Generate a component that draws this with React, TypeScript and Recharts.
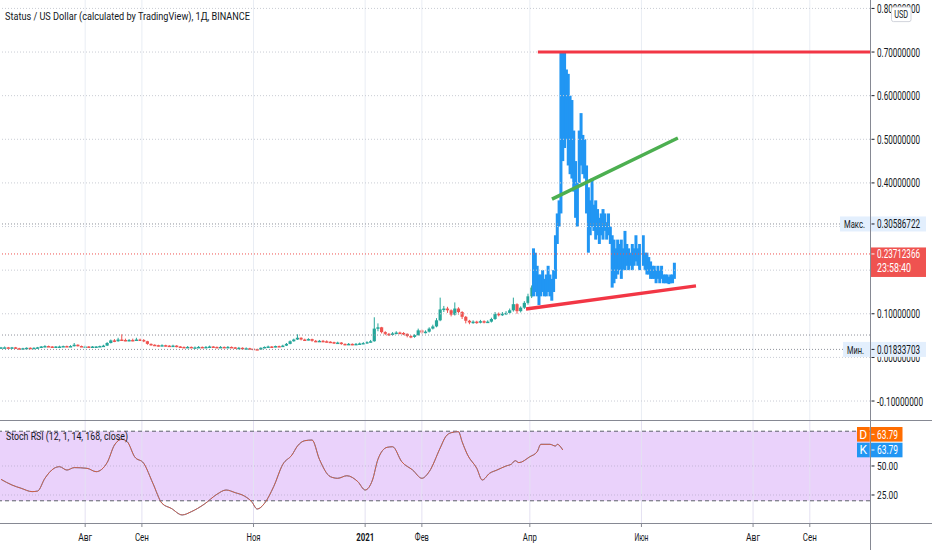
import React from 'react';
import { ComposedChart, Bar, Line, XAxis, YAxis, ReferenceLine, ReferenceArea } from 'recharts';

// day index 0 = 2020-06-16
const candleStep = 2;
const firstOpen = 0.023;
const candleClose = [
  0.023, 0.023, 0.022, 0.023, 0.021, 0.020, 0.021, 0.022, 0.021, 0.022,
  0.023, 0.025, 0.026, 0.025, 0.024, 0.025, 0.025, 0.026, 0.025, 0.026,
  0.029, 0.026, 0.025, 0.025, 0.024, 0.025, 0.025, 0.026, 0.027, 0.033,
  0.039, 0.037, 0.041, 0.040, 0.039, 0.040, 0.039, 0.041, 0.040, 0.037,
  0.031, 0.029, 0.028, 0.027, 0.028, 0.027, 0.026, 0.027, 0.025, 0.024,
  0.023, 0.024, 0.023, 0.023, 0.024, 0.023, 0.024, 0.025, 0.024, 0.023,
  0.024, 0.023, 0.024, 0.023, 0.022, 0.022, 0.021, 0.021, 0.020, 0.019,
  0.018, 0.022, 0.024, 0.025, 0.024, 0.026, 0.025, 0.027, 0.031, 0.037,
  0.041, 0.045, 0.041, 0.040, 0.042, 0.038, 0.037, 0.038, 0.037, 0.036,
  0.035, 0.033, 0.034, 0.031, 0.030, 0.031, 0.030, 0.031, 0.032, 0.033,
  0.035, 0.037, 0.066, 0.069, 0.058, 0.054, 0.052, 0.055, 0.057, 0.056,
  0.054, 0.049, 0.047, 0.051, 0.062, 0.057, 0.059, 0.066, 0.071, 0.085,
  0.110, 0.112, 0.108, 0.098, 0.112, 0.104, 0.093, 0.084, 0.080, 0.082,
  0.080, 0.083, 0.081, 0.082, 0.088, 0.100, 0.098, 0.100, 0.102, 0.108,
  0.122, 0.106, 0.114, 0.125, 0.140, 0.160,
];
const candleHigh = [
  0.024, 0.025, 0.024, 0.024, 0.024, 0.022, 0.022, 0.023, 0.023, 0.023,
  0.024, 0.026, 0.028, 0.027, 0.026, 0.026, 0.027, 0.027, 0.027, 0.028,
  0.033, 0.030, 0.027, 0.027, 0.026, 0.026, 0.026, 0.027, 0.029, 0.035,
  0.041, 0.042, 0.045, 0.053, 0.043, 0.042, 0.043, 0.045, 0.043, 0.042,
  0.038, 0.032, 0.030, 0.029, 0.030, 0.029, 0.028, 0.029, 0.028, 0.026,
  0.025, 0.026, 0.025, 0.025, 0.026, 0.025, 0.026, 0.027, 0.026, 0.025,
  0.026, 0.025, 0.026, 0.025, 0.024, 0.024, 0.023, 0.023, 0.022, 0.021,
  0.020, 0.023, 0.025, 0.027, 0.026, 0.027, 0.027, 0.029, 0.033, 0.039,
  0.043, 0.053, 0.046, 0.043, 0.044, 0.043, 0.040, 0.040, 0.040, 0.039,
  0.037, 0.036, 0.036, 0.035, 0.032, 0.033, 0.032, 0.033, 0.034, 0.035,
  0.037, 0.040, 0.092, 0.078, 0.070, 0.060, 0.056, 0.058, 0.060, 0.059,
  0.058, 0.055, 0.051, 0.053, 0.066, 0.064, 0.062, 0.069, 0.075, 0.090,
  0.137, 0.118, 0.116, 0.110, 0.126, 0.115, 0.106, 0.095, 0.086, 0.085,
  0.084, 0.086, 0.085, 0.085, 0.091, 0.104, 0.103, 0.104, 0.106, 0.112,
  0.137, 0.124, 0.117, 0.129, 0.146, 0.165,
];
const candleLow = [
  0.022, 0.022, 0.021, 0.021, 0.020, 0.019, 0.019, 0.020, 0.020, 0.020,
  0.021, 0.022, 0.024, 0.024, 0.023, 0.023, 0.024, 0.024, 0.024, 0.024,
  0.025, 0.025, 0.024, 0.024, 0.023, 0.023, 0.024, 0.024, 0.025, 0.026,
  0.032, 0.035, 0.036, 0.038, 0.037, 0.037, 0.037, 0.038, 0.038, 0.035,
  0.029, 0.027, 0.026, 0.025, 0.026, 0.025, 0.024, 0.025, 0.023, 0.022,
  0.022, 0.022, 0.022, 0.022, 0.022, 0.022, 0.022, 0.023, 0.023, 0.022,
  0.022, 0.022, 0.022, 0.022, 0.021, 0.021, 0.020, 0.020, 0.019, 0.018,
  0.017, 0.017, 0.021, 0.023, 0.023, 0.023, 0.024, 0.024, 0.026, 0.030,
  0.036, 0.040, 0.039, 0.038, 0.039, 0.036, 0.035, 0.036, 0.035, 0.034,
  0.033, 0.031, 0.032, 0.029, 0.028, 0.029, 0.028, 0.029, 0.030, 0.031,
  0.032, 0.034, 0.036, 0.060, 0.055, 0.051, 0.049, 0.050, 0.053, 0.053,
  0.051, 0.046, 0.044, 0.045, 0.050, 0.054, 0.055, 0.057, 0.064, 0.069,
  0.083, 0.104, 0.102, 0.094, 0.096, 0.098, 0.088, 0.078, 0.076, 0.077,
  0.077, 0.078, 0.078, 0.079, 0.080, 0.086, 0.094, 0.095, 0.097, 0.099,
  0.105, 0.100, 0.103, 0.111, 0.121, 0.136,
];

const blueStartDay = 291;
const blueHigh = [
  0.25, 0.24, 0.21, 0.19, 0.19, 0.20, 0.18, 0.19, 0.21, 0.19,
  0.18, 0.20, 0.28, 0.33, 0.36, 0.70, 0.70, 0.70, 0.66, 0.65,
  0.60, 0.59, 0.52, 0.45, 0.40, 0.52, 0.56, 0.51, 0.50, 0.44,
  0.39, 0.36, 0.41, 0.35, 0.36, 0.34, 0.32, 0.33, 0.34, 0.33,
  0.31, 0.33, 0.30, 0.28, 0.27, 0.25, 0.27, 0.26, 0.27, 0.25,
  0.29, 0.26, 0.25, 0.24, 0.26, 0.25, 0.28, 0.25, 0.26, 0.25,
  0.28, 0.24, 0.24, 0.23, 0.22, 0.21, 0.21, 0.20, 0.21, 0.20,
  0.21, 0.19, 0.19, 0.19, 0.185, 0.19, 0.19, 0.217,
];
const blueLow = [
  0.14, 0.15, 0.14, 0.12, 0.14, 0.15, 0.14, 0.14, 0.15, 0.14,
  0.13, 0.15, 0.18, 0.26, 0.30, 0.33, 0.45, 0.48, 0.50, 0.44,
  0.42, 0.41, 0.38, 0.32, 0.30, 0.40, 0.44, 0.42, 0.41, 0.33,
  0.24, 0.28, 0.30, 0.29, 0.27, 0.28, 0.26, 0.28, 0.27, 0.29,
  0.27, 0.28, 0.26, 0.16, 0.17, 0.18, 0.19, 0.20, 0.18, 0.20,
  0.20, 0.21, 0.20, 0.21, 0.20, 0.21, 0.22, 0.21, 0.20, 0.22,
  0.21, 0.20, 0.19, 0.19, 0.18, 0.18, 0.18, 0.17, 0.18, 0.17,
  0.18, 0.17, 0.17, 0.17, 0.168, 0.17, 0.17, 0.18,
];

const stochDays = [
  0, 6, 11, 17, 20, 24, 29, 32, 36, 40, 47, 52, 58, 62, 66, 69, 73, 78, 83, 88,
  93, 99, 104, 111, 118, 123, 128, 133, 137, 140, 144, 149, 154, 159, 162, 166, 170, 174, 180, 184,
  189, 195, 199, 203, 206, 211, 214, 219, 225, 230, 234, 240, 243, 246, 250, 252, 255, 260, 263, 267,
  271, 276, 279, 281, 283, 289, 293, 295, 300, 303, 304, 307,
];
const stochValues = [
  38.5, 33.6, 30.8, 27.9, 28.4, 39.4, 48.0, 49.4, 46.5, 48.6, 48.0, 45.1, 52.9, 68.1, 73.0, 70.9, 58.0, 52.3, 35.1, 17.8,
  13.5, 7.8, 10.6, 17.0, 25.6, 29.3, 27.0, 24.1, 19.2, 12.9, 17.8, 32.2, 51.4, 59.5, 67.2, 71.8, 72.4, 55.8, 40.8, 39.4,
  41.6, 36.5, 29.3, 37.9, 55.8, 66.1, 66.6, 53.7, 46.5, 39.4, 45.1, 65.5, 75.3, 78.7, 79.6, 70.9, 59.5, 48.0, 37.9, 43.7,
  46.5, 50.0, 51.7, 54.6, 52.9, 58.0, 62.3, 68.7, 68.7, 67.2, 68.7, 63.8,
];

const tickDays = [46, 77, 138, 199, 230, 289, 350, 411, 442];
const tickLabels = ['Авг', 'Сен', 'Ноя', '2021', 'Фев', 'Апр', 'Июн', 'Авг', 'Сен'];

const priceGrid = [0.8, 0.7, 0.6, 0.5, 0.4, 0.3, 0.2, 0.1, 0, -0.1];
const hiddenPriceLabels = [0.3, 0.2];
const maxPrice = 0.30586722;
const minPrice = 0.01833703;
const lastPrice = 0.23712366;
const lastTimer = '23:58:40';
const extraLevel = 0.0513;
const stochLast = 63.79;

const topLineDays = [293.4, 474.9];
const topLineValues = [0.7, 0.7];
const greenLineDays = [301.1, 369.9];
const greenLineValues = [0.363, 0.503];
const lowLineDays = [286.9, 379.8];
const lowLineValues = [0.111, 0.164];

const X_DOMAIN: [number, number] = [-0.55, 474.9];
const AX = 870;
const FONT = "Roboto, 'Noto Sans', sans-serif";

const candleRows = candleClose.map((c, i) => ({
  day: i * candleStep,
  open: i === 0 ? firstOpen : candleClose[i - 1],
  close: c,
  high: candleHigh[i],
  low: candleLow[i],
  kind: 'candle',
}));
const blueRows = blueHigh.map((h, i) => ({
  day: blueStartDay + i,
  open: h,
  close: blueLow[i],
  high: h,
  low: blueLow[i],
  kind: 'blue',
}));
const mainData = [...candleRows, ...blueRows].map((r) => ({ ...r, range: [r.low, r.high] }));

const stochData = stochDays.map((d, i) => ({ day: d, kVal: stochValues[i], dVal: stochValues[i] }));
const toLine = (days: number[], vals: number[]) => days.map((d, i) => ({ day: d, v: vals[i] }));
const topLine = toLine(topLineDays, topLineValues);
const greenLine = toLine(greenLineDays, greenLineValues);
const lowLine = toLine(lowLineDays, lowLineValues);

const CandleShape = (props: any) => {
  const { x, y, width, height, payload } = props;
  if (!payload || height == null || isNaN(y)) return null;
  const cx = x + width / 2;
  const { high, low, open, close, kind } = payload;
  if (kind === 'blue') {
    return <rect x={cx - 1.5} y={y} width={3} height={Math.max(height, 1)} fill="#2196f3" />;
  }
  const ppu = height / (high - low);
  const up = close >= open;
  const color = up ? '#26a69a' : '#ef5350';
  const yo = y + (high - open) * ppu;
  const yc = y + (high - close) * ppu;
  const top = Math.min(yo, yc);
  const h = Math.max(Math.abs(yo - yc), 1.5);
  return (
    <g>
      <line x1={cx} x2={cx} y1={y} y2={y + height} stroke={color} strokeWidth={1} />
      <rect x={cx - 1.6} y={top} width={3.2} height={h} fill={color} />
    </g>
  );
};

const PriceTick = (props: any) => {
  const { y, payload } = props;
  const v = payload.value;
  const txt = (s: string, fill = '#131722', len = 43) => (
    <text x={AX + 7} y={y + 4.5} fill={fill} fontSize={12.5} fontFamily={FONT} textLength={len} lengthAdjust="spacingAndGlyphs">
      {s}
    </text>
  );
  if (v === maxPrice || v === minPrice) {
    const isMax = v === maxPrice;
    const label = isMax ? 'Макс.' : 'Мин.';
    const lw = isMax ? 30 : 27;
    return (
      <g>
        <rect x={AX - lw} y={y - 7.5} width={lw} height={15} fill="#e3effd" />
        <rect x={AX + 1} y={y - 7.5} width={55} height={15} fill="#e3effd" />
        <text x={AX - lw + 4} y={y + 4.2} fill="#131722" fontSize={11.5} fontFamily={FONT} textLength={isMax ? 21 : 17} lengthAdjust="spacingAndGlyphs">
          {label}
        </text>
        <line x1={AX + 1.5} x2={AX + 4.5} y1={y} y2={y} stroke="#131722" />
        {txt(v.toFixed(8))}
      </g>
    );
  }
  if (v === lastPrice) {
    return (
      <g>
        <rect x={AX + 1} y={y - 6.5} width={55} height={29.5} fill="#ef5350" />
        <line x1={AX + 1.5} x2={AX + 4.5} y1={y} y2={y} stroke="#ffffff" />
        {txt(v.toFixed(8), '#ffffff')}
        <text x={AX + 7} y={y + 18.5} fill="#ffffff" fontSize={12.5} fontFamily={FONT} textLength={34} lengthAdjust="spacingAndGlyphs">
          {lastTimer}
        </text>
      </g>
    );
  }
  if (hiddenPriceLabels.includes(v)) return <g />;
  const s = v.toFixed(8);
  return (
    <g>
      <line x1={AX + 1.5} x2={AX + 4.5} y1={y} y2={y} stroke="#131722" />
      {txt(s, '#131722', s.startsWith('-') ? 46 : 43)}
      {v === 0.8 ? (
        <g>
          <rect x={891.5} y={y - 1.3} width={19.5} height={14.5} rx={2} fill="#ffffff" stroke="#d1d4dc" />
          <text x={901.2} y={y + 10} textAnchor="middle" fill="#131722" fontSize={10} fontFamily={FONT} textLength={14} lengthAdjust="spacingAndGlyphs">
            USD
          </text>
        </g>
      ) : null}
    </g>
  );
};

const StochTick = (props: any) => {
  const { y, payload } = props;
  const v = payload.value;
  if (v === stochLast) {
    const box = (yy: number, letter: string, color: string) => (
      <g>
        <rect x={857} y={yy - 7.3} width={12.5} height={14.6} fill={color} />
        <rect x={AX - 0.5} y={yy - 7.3} width={33} height={14.6} fill={color} />
        <text x={863.2} y={yy + 4.3} textAnchor="middle" fill="#ffffff" fontSize={12} fontFamily={FONT}>
          {letter}
        </text>
        <line x1={AX + 1.5} x2={AX + 4.5} y1={yy} y2={yy} stroke="#ffffff" />
        <text x={AX + 7} y={yy + 4.3} fill="#ffffff" fontSize={12} fontFamily={FONT} textLength={21} lengthAdjust="spacingAndGlyphs">
          {v.toFixed(2)}
        </text>
      </g>
    );
    return (
      <g>
        {box(y, 'K', '#2196f3')}
        {box(y - 15.7, 'D', '#ff6d00')}
      </g>
    );
  }
  return (
    <g>
      <line x1={AX + 1.5} x2={AX + 4.5} y1={y} y2={y} stroke="#131722" />
      <text x={AX + 7} y={y + 4.2} fill="#131722" fontSize={11.5} fontFamily={FONT} textLength={21} lengthAdjust="spacingAndGlyphs">
        {v.toFixed(2)}
      </text>
    </g>
  );
};

const TimeTick = (props: any) => {
  const { x, y, payload } = props;
  const i = tickDays.indexOf(payload.value);
  const label = tickLabels[i];
  const bold = label === '2021';
  return (
    <text x={x} y={y + 11.7} textAnchor="middle" fill="#131722" fontSize={11.5} fontWeight={bold ? 700 : 400} fontFamily={FONT} textLength={bold ? 18 : 14} lengthAdjust="spacingAndGlyphs">
      {label}
    </text>
  );
};

export default function App() {
  return (
    <div style={{ position: 'relative', width: 932, height: 550, background: '#ffffff', overflow: 'hidden' }}>
      <style>{'body{margin:0;}'}</style>
      <div style={{ position: 'absolute', left: 0, top: 0 }}>
        <ComposedChart width={932} height={420} data={mainData} margin={{ top: 0, right: 0, bottom: 0, left: 0 }}>
          <XAxis type="number" dataKey="day" domain={X_DOMAIN} allowDataOverflow hide />
          <YAxis
            orientation="right"
            width={62}
            type="number"
            domain={[-0.1435, 0.8193]}
            allowDataOverflow
            ticks={[...priceGrid, maxPrice, minPrice, lastPrice]}
            interval={0}
            tick={PriceTick}
            axisLine={false}
            tickLine={false}
            tickSize={4}
            tickMargin={3}
          />
          {tickDays.map((d) => (
            <ReferenceLine key={'vx' + d} x={d} stroke="#e9edf4" strokeWidth={1} />
          ))}
          {priceGrid.map((v) => (
            <ReferenceLine key={'gy' + v} y={v} stroke="#c9ccd4" strokeDasharray="1 2" />
          ))}
          <ReferenceLine y={maxPrice} stroke="#8f929b" strokeDasharray="1 2" />
          <ReferenceLine y={minPrice} stroke="#8f929b" strokeDasharray="1 2" />
          <ReferenceLine y={extraLevel} stroke="#8f929b" strokeDasharray="1 2" />
          <ReferenceLine y={lastPrice} stroke="#ef5350" strokeDasharray="1 2" />
          <Bar dataKey="range" barSize={2} shape={CandleShape} isAnimationActive={false} />
          <Line data={lowLine} dataKey="v" stroke="#f23645" strokeWidth={3.5} dot={false} activeDot={false} isAnimationActive={false} />
          <Line data={greenLine} dataKey="v" stroke="#4caf50" strokeWidth={3.5} dot={false} activeDot={false} isAnimationActive={false} />
          <Line data={topLine} dataKey="v" stroke="#f23645" strokeWidth={3} dot={false} activeDot={false} isAnimationActive={false} />
        </ComposedChart>
      </div>
      <div style={{ position: 'absolute', left: 0, top: 421 }}>
        <ComposedChart width={932} height={129} data={stochData} margin={{ top: 0, right: 0, bottom: 0, left: 0 }}>
          <XAxis
            type="number"
            dataKey="day"
            domain={X_DOMAIN}
            allowDataOverflow
            ticks={tickDays}
            interval={0}
            height={27}
            tick={TimeTick}
            axisLine={false}
            tickLine={{ stroke: '#868993' }}
            tickSize={4}
            tickMargin={2}
          />
          <YAxis
            orientation="right"
            width={62}
            type="number"
            domain={[0.85, 88.8]}
            allowDataOverflow
            ticks={[50, 25, stochLast]}
            interval={0}
            tick={StochTick}
            axisLine={false}
            tickLine={false}
            tickSize={4}
            tickMargin={3}
          />
          <ReferenceArea y1={20} y2={80} fill="#ead2fb" fillOpacity={1} stroke="none" />
          {tickDays.map((d) => (
            <ReferenceLine key={'svx' + d} x={d} stroke="#e4e1f2" strokeWidth={1} />
          ))}
          <ReferenceLine y={50} stroke="#c4b5d8" strokeDasharray="1 2" />
          <ReferenceLine y={25} stroke="#c4b5d8" strokeDasharray="1 2" />
          <ReferenceLine y={80} stroke="#5d606b" strokeDasharray="4 3" />
          <ReferenceLine y={20} stroke="#5d606b" strokeDasharray="4 3" />
          <Line dataKey="kVal" type="monotone" stroke="#2196f3" strokeWidth={1} dot={false} activeDot={false} isAnimationActive={false} />
          <Line dataKey="dVal" type="monotone" stroke="#f4511e" strokeWidth={1} strokeOpacity={0.85} dot={false} activeDot={false} isAnimationActive={false} />
        </ComposedChart>
      </div>
      <div style={{ position: 'absolute', left: 0, top: 420, width: 932, height: 1, background: '#868993' }} />
      <div style={{ position: 'absolute', left: 0, top: 523, width: 932, height: 1, background: '#868993' }} />
      <div style={{ position: 'absolute', left: AX, top: 0, width: 1, height: 550, background: '#868993' }} />
      <svg width={932} height={550} style={{ position: 'absolute', left: 0, top: 0, pointerEvents: 'none' }}>
        <text x={5} y={19.5} fill="#131722" fontSize={11.5} fontFamily={FONT} textLength={245} lengthAdjust="spacingAndGlyphs">
          Status / US Dollar (calculated by TradingView), 1Д, BINANCE
        </text>
        <text x={6} y={440} fill="#131722" fontSize={11} fontFamily={FONT} textLength={122} lengthAdjust="spacingAndGlyphs">
          Stoch RSI (12, 1, 14, 168, close)
        </text>
      </svg>
    </div>
  );
}
